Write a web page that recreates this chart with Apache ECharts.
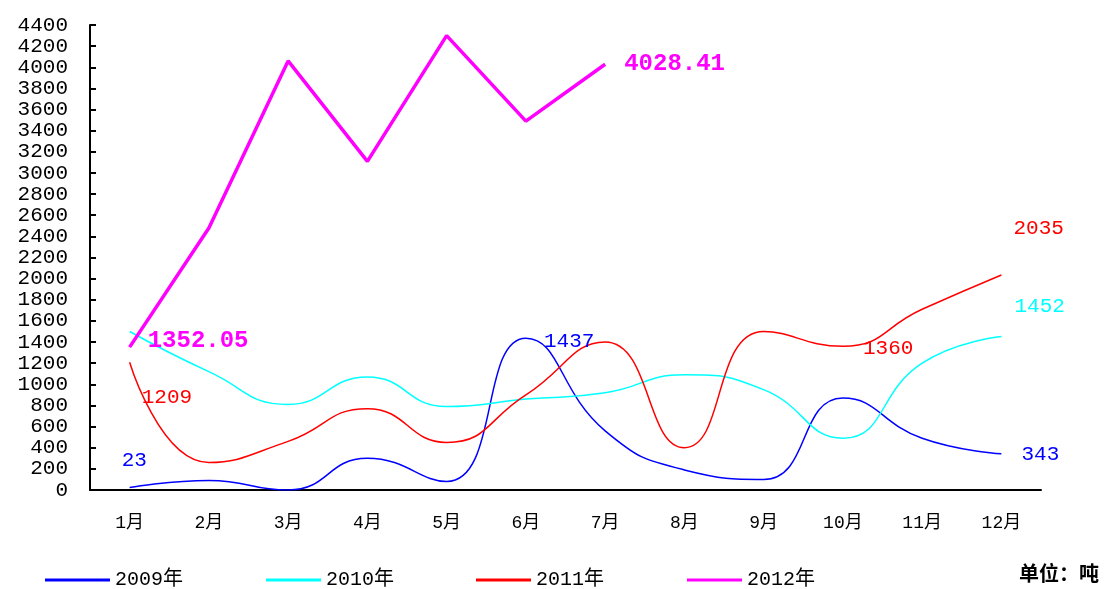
<!DOCTYPE html>
<html>
<head>
<meta charset="utf-8">
<script src="https://cdn.jsdelivr.net/npm/echarts@6/dist/echarts.min.js"></script>
<style>html,body{margin:0;padding:0;background:#fff}#c{width:1105px;height:589px}</style>
</head>
<body>
<div id="c"></div>
<script>
const months = ['1月','2月','3月','4月','5月','6月','7月','8月','9月','10月','11月','12月'];
const s2009 = [23, 90, 0, 300, 80, 1437, 560, 190, 100, 870, 490, 343];
const s2010 = [1500, 1120, 810, 1070, 790, 860, 920, 1090, 950, 490, 1200, 1452];
const s2011 = [1209, 260, 460, 770, 450, 900, 1400, 400, 1500, 1360, 1710, 2035];
const s2012 = [1352.05, 2480, 4060, 3110, 4300, 3490, 4028.41];
const seriesNames = ['2009年','2010年','2011年','2012年'];
const seriesColors = ['#0000FF', '#00FFFF', '#FF0000', '#FF00FF'];

const numFont = '"Liberation Mono", "DejaVu Sans Mono", monospace';
const mixFont = '"Liberation Mono", "Noto Sans CJK SC", monospace';
function lbl(color, dist, off, bold) {
  return { show: true, position: 'right', distance: dist, offset: off, color: color,
    fontFamily: numFont, fontSize: bold ? 24 : 21, fontWeight: bold ? 'bold' : 'normal' };
}
function build(vals, labels) {
  return vals.map((v, i) => labels[i] ? { value: v, label: labels[i] } : v);
}
const chart = echarts.init(document.getElementById('c'));
const lineBase = { type: 'line', smooth: 0.5, symbol: 'circle', symbolSize: 0.1, showSymbol: true, label: { show: false }, emphasis: { disabled: true }, animation: false };
const legendLefts = [40, 261, 471, 682];
const legendIconW = [65, 55, 55, 55];
const legends = seriesNames.map((n, i) => ({
  left: legendLefts[i], top: 565, itemWidth: legendIconW[i], itemHeight: 3, itemGap: 0, icon: 'rect',
  textStyle: { fontSize: 20, color: '#000', fontFamily: mixFont },
  data: [n]
}));
chart.setOption({
  animation: false,
  grid: { left: 90, right: 64, top: 25, bottom: 99 },
  xAxis: {
    type: 'category', data: months, boundaryGap: true,
    axisLine: { lineStyle: { color: '#000', width: 2 } },
    axisTick: { inside: true, length: 6, lineStyle: { color: '#000', width: 2 } },
    axisLabel: { margin: 24, color: '#000', fontSize: 18, fontFamily: mixFont },
    splitLine: { show: false }
  },
  yAxis: {
    type: 'value', min: 0, max: 4400, interval: 200,
    axisLine: { show: true, lineStyle: { color: '#000', width: 2 } },
    axisTick: { show: true, inside: true, length: 6, lineStyle: { color: '#000', width: 2 } },
    axisLabel: { margin: 22, color: '#000', fontSize: 21, fontFamily: numFont,
      showMinLabel: true, showMaxLabel: true, hideOverlap: false,
      formatter: v => String(v) },
    splitLine: { show: false }
  },
  legend: legends,
  graphic: [{ type: 'text', right: 6, bottom: 6,
    style: { text: '单位：吨', fontSize: 20, fontWeight: 'bold', fill: '#000', fontFamily: '"Noto Sans CJK SC", sans-serif' } }],
  series: [
    Object.assign({}, lineBase, { name: seriesNames[0], color: seriesColors[0], lineStyle: { width: 1.5, color: seriesColors[0] },
      data: build(s2009, { 0: lbl(seriesColors[0], 0, [-8, -27]), 5: lbl(seriesColors[0], 18, [0, 3]), 11: lbl(seriesColors[0], 20, [0, 1]) }) }),
    Object.assign({}, lineBase, { name: seriesNames[1], color: seriesColors[1], lineStyle: { width: 1.5, color: seriesColors[1] },
      data: build(s2010, { 11: lbl(seriesColors[1], 13, [0, -30]) }) }),
    Object.assign({}, lineBase, { name: seriesNames[2], color: seriesColors[2], lineStyle: { width: 1.5, color: seriesColors[2] },
      data: build(s2011, { 0: lbl(seriesColors[2], 12, [0, 35]), 9: lbl(seriesColors[2], 20, [0, 2]), 11: lbl(seriesColors[2], 12, [0, -47]) }) }),
    Object.assign({}, lineBase, { name: seriesNames[3], smooth: false, color: seriesColors[3], lineStyle: { width: 3.5, color: seriesColors[3] },
      data: build(s2012, { 0: lbl(seriesColors[3], 18, [0, -6], true), 6: lbl(seriesColors[3], 19, [0, 0], true) }) })
  ]
});
</script>
</body>
</html>
